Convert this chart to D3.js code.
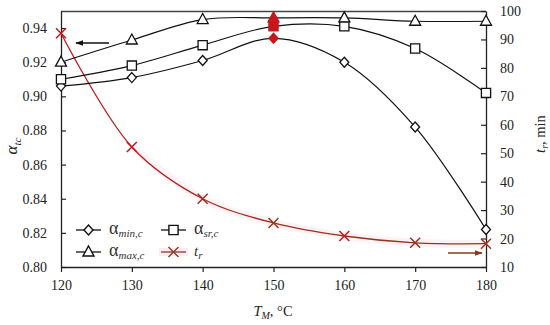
<!DOCTYPE html>
<html><head><meta charset="utf-8">
<script src="https://cdn.jsdelivr.net/npm/d3@7"></script>
<style>body{margin:0;background:#fff}svg{display:block}</style>
</head><body><svg id="c" width="550" height="325"></svg>
<script>
const temps = [120,130,140,150,160,170,180];
const alphaMin = [0.906,0.911,0.921,0.934,0.920,0.882,0.822];
const alphaSr  = [0.910,0.918,0.930,0.941,0.941,0.928,0.902];
const alphaMax = [0.920,0.933,0.945,0.946,0.946,0.944,0.944];
const tr       = [92.2,52.2,34.0,25.5,20.9,18.5,18.2];
const leftTicks = [0.80,0.82,0.84,0.86,0.88,0.90,0.92,0.94];
const rightTicks = [10,20,30,40,50,60,70,80,90,100];
const xTicks = [120,130,140,150,160,170,180];
const highlightT = 150;

const FONT = "Liberation Serif";
const svg = d3.select("#c");
const L=61,R=486,T=11,B=267;
const x = d3.scaleLinear().domain([120,180]).range([L,R]);
const yL = d3.scaleLinear().domain([0.80,0.95]).range([B,T]);
const yR = d3.scaleLinear().domain([10,100]).range([B,T]);
const red="#c8161d", brown="#8b3a1e";

const defs = svg.append("defs");
const gr = defs.append("linearGradient").attr("id","trg").attr("gradientUnits","userSpaceOnUse")
  .attr("x1",x(120)).attr("x2",x(180)).attr("y1",0).attr("y2",0);
gr.append("stop").attr("offset","0%").attr("stop-color",red);
gr.append("stop").attr("offset","30%").attr("stop-color","#a8281c");
gr.append("stop").attr("offset","100%").attr("stop-color",brown);
[["al",'#111'],["ar",brown]].forEach(([id,c])=>{
  defs.append("marker").attr("id",id).attr("viewBox","0 0 10 10").attr("refX",9).attr("refY",5)
   .attr("markerWidth",5).attr("markerHeight",5).attr("orient","auto-start-reverse")
   .append("path").attr("d","M0,1.5L10,5L0,8.5Z").attr("fill",c);
});

// top border
svg.append("line").attr("x1",L).attr("x2",R).attr("y1",T+0.5).attr("y2",T+0.5).attr("stroke","#444").attr("stroke-width",1.3);

// axes
const axL = d3.axisLeft(yL).tickValues(leftTicks).tickSizeInner(-5).tickSizeOuter(0).tickPadding(14).tickFormat(d3.format(".2f"));
const axR = d3.axisRight(yR).tickValues(rightTicks).tickSizeInner(-5).tickSizeOuter(0).tickPadding(14).tickFormat(d3.format("d"));
const axB = d3.axisBottom(x).tickValues(xTicks).tickSizeInner(5).tickSizeOuter(0).tickPadding(8).tickFormat(d3.format("d"));
function style(g){g.attr("font-family",FONT).attr("font-size",14);
  g.select(".domain").attr("stroke","#222").attr("stroke-width",1.3);
  g.selectAll(".tick line").attr("stroke","#222").attr("stroke-width",1.2);
  g.selectAll("text").attr("font-family",FONT).attr("font-size",14).attr("fill","#222");}
svg.append("g").attr("transform",`translate(${L},0)`).call(axL).call(style);
svg.append("g").attr("transform",`translate(${R},0)`).call(axR).call(style);
svg.append("g").attr("transform",`translate(0,${B})`).call(axB).call(style);

// tr line
const mkLine = (sc, off=0) => d3.line().x((d,i)=>x(temps[i+off])).y(d=>sc(d)).curve(d3.curveCatmullRom.alpha(0.5));
svg.append("path").datum(tr.slice(1)).attr("d",mkLine(yR,1))
  .attr("fill","none").attr("stroke","#fdeaf2").attr("stroke-width",8).attr("opacity",0.6);
svg.append("path").datum(tr).attr("d",mkLine(yR)).attr("fill","none").attr("stroke","url(#trg)").attr("stroke-width",1.3);

// alpha lines
[alphaMin,alphaSr,alphaMax].forEach(s=>{
  svg.append("path").datum(s).attr("d",mkLine(yL)).attr("fill","none").attr("stroke","#111").attr("stroke-width",1.2);
});
function diamond(){return "M0,-5L4.5,0L0,5L-4.5,0Z";}
function square(){return "M-4.6,-4.6H4.6V4.6H-4.6Z";}
function tri(){return "M0,-6L5.5,4H-5.5Z";}
function cross(){return "M-5,-5L5,5M-5,5L5,-5";}
const series=[[alphaMin,diamond],[alphaSr,square],[alphaMax,tri]];
series.forEach(([s,f])=>{
  svg.append("g").selectAll("path").data(s).join("path")
    .attr("transform",(d,i)=>`translate(${x(temps[i])},${yL(d)})`).attr("d",f)
    .attr("fill",(d,i)=>temps[i]===highlightT?red:"#fff")
    .attr("stroke",(d,i)=>temps[i]===highlightT?red:"#111").attr("stroke-width",1.3);
});
const trCol=[red,red,"#9a3020",brown,red,"#9a3020","#a33020"];
svg.append("g").selectAll("path").data(tr).join("path")
  .attr("transform",(d,i)=>`translate(${x(temps[i])},${yR(d)})`).attr("d",cross)
  .attr("stroke",(d,i)=>trCol[i]).attr("stroke-width",1.5).attr("fill","none");

// arrows
svg.append("line").attr("x1",109).attr("x2",76).attr("y1",43).attr("y2",43).attr("stroke","#111").attr("stroke-width",1.6).attr("marker-end","url(#al)");
svg.append("line").attr("x1",448).attr("x2",482).attr("y1",253).attr("y2",253).attr("stroke",brown).attr("stroke-width",1.6).attr("marker-end","url(#ar)");

// axis titles
const tl = svg.append("text").attr("transform","translate(17,146) rotate(-90)").attr("text-anchor","middle").attr("font-size",17).attr("font-family",FONT).attr("fill","#222");
tl.append("tspan").attr("font-style","italic").text("α");
tl.append("tspan").attr("font-style","italic").attr("font-size",11).attr("dy",4).text("tc");
const tr2 = svg.append("text").attr("transform","translate(545,134) rotate(-90)").attr("text-anchor","middle").attr("font-size",14.5).attr("font-family",FONT).attr("fill","#222");
tr2.append("tspan").attr("font-style","italic").text("t");
tr2.append("tspan").attr("font-style","italic").attr("font-size",10).attr("dy",3).text("r");
tr2.append("tspan").attr("dy",-3).text(", min");
const xt = svg.append("text").attr("x",273).attr("y",316).attr("text-anchor","middle").attr("font-size",14.5).attr("font-family",FONT).attr("fill","#222");
xt.append("tspan").attr("font-style","italic").text("T");
xt.append("tspan").attr("font-style","italic").attr("font-size",10).attr("dy",3).text("M");
xt.append("tspan").attr("dy",-3).text(", °C");

// legend
const leg=[
  {x:76,y:230,f:diamond,lab:"α",sub:"min,c",c:"#111"},
  {x:161,y:230,f:square,lab:"α",sub:"sr,c",c:"#111"},
  {x:76,y:252,f:tri,lab:"α",sub:"max,c",c:"#111"},
  {x:161,y:252,f:cross,lab:"t",sub:"r",c:brown}
];
leg.forEach(l=>{
  const g=svg.append("g");
  if(l.f===cross) g.append("line").attr("x1",l.x-2).attr("x2",l.x+27).attr("y1",l.y).attr("y2",l.y).attr("stroke","#fdeaf2").attr("stroke-width",8);
  g.append("line").attr("x1",l.x).attr("x2",l.x+25).attr("y1",l.y).attr("y2",l.y).attr("stroke",l.f===cross?brown:"#111").attr("stroke-width",1.3);
  g.append("path").attr("transform",`translate(${l.x+12.5},${l.y})`).attr("d",l.f)
    .attr("fill",l.f===cross?"none":"#fff").attr("stroke",l.c).attr("stroke-width",1.4);
  const t=g.append("text").attr("x",l.x+33).attr("y",l.y+4).attr("font-size",l.lab==="α"?18:15).attr("font-family",FONT).attr("fill","#333");
  t.append("tspan").attr("font-style",l.lab==="t"?"italic":"normal").text(l.lab);
  t.append("tspan").attr("font-style","italic").attr("font-size",11).attr("dy",3).text(l.sub);
});
</script></body></html>
